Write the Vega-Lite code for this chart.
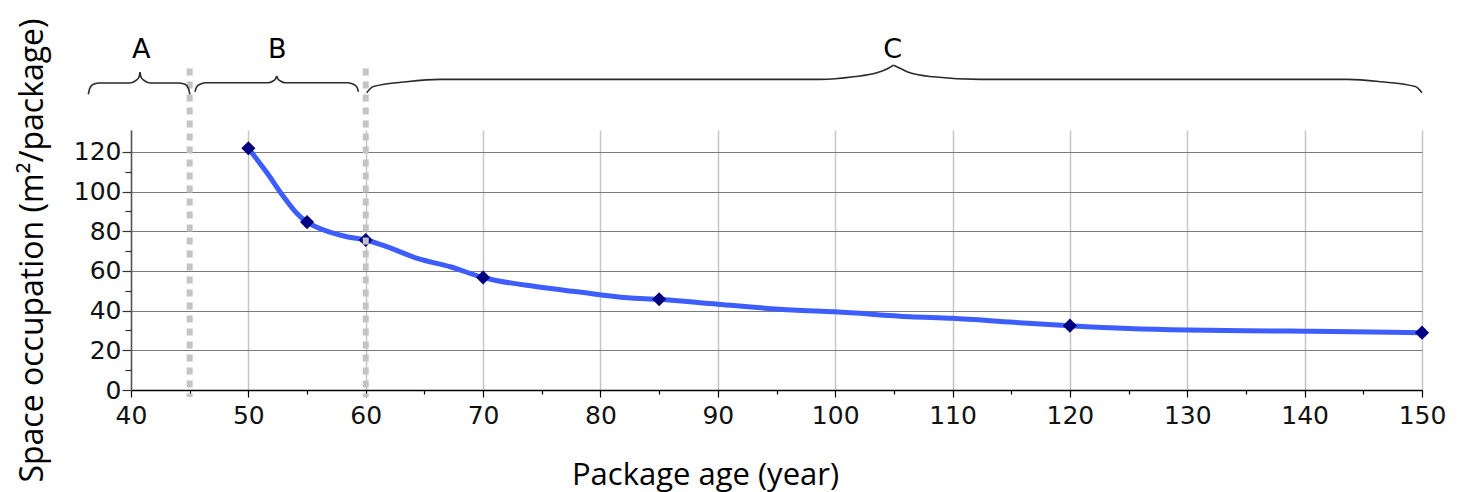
{
  "$schema": "https://vega.github.io/schema/vega-lite/v6.json",
  "width": 1291,
  "height": 260,
  "autosize": {"type": "none"},
  "padding": {"left": 131, "top": 130, "right": 36, "bottom": 102},
  "background": "white",
  "config": {"view": {"stroke": null}},
  "datasets": {
    "curve": [
      {"age": 50, "occ": 121.8, "marker": 1},
      {"age": 51.6, "occ": 109.3, "marker": 0},
      {"age": 53, "occ": 97.4, "marker": 0},
      {"age": 54.1, "occ": 89.2, "marker": 0},
      {"age": 55, "occ": 84.6, "marker": 1},
      {"age": 55.8, "occ": 82.1, "marker": 0},
      {"age": 58.4, "occ": 77.2, "marker": 0},
      {"age": 60, "occ": 75.6, "marker": 1},
      {"age": 61.8, "occ": 72.2, "marker": 0},
      {"age": 64.4, "occ": 66.3, "marker": 0},
      {"age": 67.2, "occ": 62.1, "marker": 0},
      {"age": 70, "occ": 56.7, "marker": 1},
      {"age": 74.6, "occ": 52.0, "marker": 0},
      {"age": 78, "occ": 49.5, "marker": 0},
      {"age": 82.3, "occ": 46.5, "marker": 0},
      {"age": 85, "occ": 45.7, "marker": 1},
      {"age": 90, "occ": 43.2, "marker": 0},
      {"age": 96.4, "occ": 40.3, "marker": 0},
      {"age": 100, "occ": 39.4, "marker": 0},
      {"age": 106.4, "occ": 36.9, "marker": 0},
      {"age": 110, "occ": 36.1, "marker": 0},
      {"age": 115.2, "occ": 34.1, "marker": 0},
      {"age": 120, "occ": 32.4, "marker": 1},
      {"age": 125, "occ": 31.0, "marker": 0},
      {"age": 130, "occ": 30.2, "marker": 0},
      {"age": 135, "occ": 29.8, "marker": 0},
      {"age": 140, "occ": 29.6, "marker": 0},
      {"age": 144, "occ": 29.3, "marker": 0},
      {"age": 150, "occ": 28.9, "marker": 1}
    ],
    "dividers": [{"age": 45}, {"age": 60}],
    "labels": [
      {"label": "A", "age": 40.87, "occ": 171.5},
      {"label": "B", "age": 52.47, "occ": 171.5},
      {"label": "C", "age": 104.9, "occ": 171.5}
    ],
    "braces": [
      {"part": "A1", "i": 0, "age": 36.36, "occ": 149.0},
      {"part": "A1", "i": 1, "age": 36.49, "occ": 152.0},
      {"part": "A1", "i": 2, "age": 36.79, "occ": 154.0},
      {"part": "A1", "i": 3, "age": 37.38, "occ": 154.7},
      {"part": "A1", "i": 4, "age": 39.91, "occ": 154.7},
      {"part": "A1", "i": 5, "age": 40.43, "occ": 156.0},
      {"part": "A1", "i": 6, "age": 40.68, "occ": 157.7},
      {"part": "A1", "i": 7, "age": 40.77, "occ": 160.2},
      {"part": "A2", "i": 0, "age": 40.77, "occ": 160.2},
      {"part": "A2", "i": 1, "age": 40.85, "occ": 157.7},
      {"part": "A2", "i": 2, "age": 41.11, "occ": 156.0},
      {"part": "A2", "i": 3, "age": 41.62, "occ": 154.7},
      {"part": "A2", "i": 4, "age": 44.0, "occ": 154.7},
      {"part": "A2", "i": 5, "age": 44.6, "occ": 154.0},
      {"part": "A2", "i": 6, "age": 44.89, "occ": 152.0},
      {"part": "A2", "i": 7, "age": 45.02, "occ": 149.0},
      {"part": "B1", "i": 0, "age": 45.45, "occ": 150.3},
      {"part": "B1", "i": 1, "age": 45.58, "occ": 152.6},
      {"part": "B1", "i": 2, "age": 45.88, "occ": 154.1},
      {"part": "B1", "i": 3, "age": 46.48, "occ": 154.8},
      {"part": "B1", "i": 4, "age": 51.67, "occ": 154.8},
      {"part": "B1", "i": 5, "age": 52.1, "occ": 155.7},
      {"part": "B1", "i": 6, "age": 52.33, "occ": 156.9},
      {"part": "B1", "i": 7, "age": 52.41, "occ": 158.2},
      {"part": "B2", "i": 0, "age": 52.41, "occ": 158.2},
      {"part": "B2", "i": 1, "age": 52.5, "occ": 156.9},
      {"part": "B2", "i": 2, "age": 52.73, "occ": 155.7},
      {"part": "B2", "i": 3, "age": 53.16, "occ": 154.8},
      {"part": "B2", "i": 4, "age": 58.35, "occ": 154.8},
      {"part": "B2", "i": 5, "age": 58.95, "occ": 154.1},
      {"part": "B2", "i": 6, "age": 59.25, "occ": 152.6},
      {"part": "B2", "i": 7, "age": 59.38, "occ": 150.3},
      {"part": "C1", "i": 0, "age": 60.08, "occ": 149.8},
      {"part": "C1", "i": 1, "age": 60.65, "occ": 152.9},
      {"part": "C1", "i": 2, "age": 63.49, "occ": 155.3},
      {"part": "C1", "i": 3, "age": 66.33, "occ": 156.5},
      {"part": "C1", "i": 4, "age": 98.71, "occ": 156.5},
      {"part": "C1", "i": 5, "age": 101.55, "occ": 157.8},
      {"part": "C1", "i": 6, "age": 103.54, "occ": 159.8},
      {"part": "C1", "i": 7, "age": 104.53, "occ": 162.1},
      {"part": "C1", "i": 8, "age": 104.95, "occ": 163.7},
      {"part": "C2", "i": 0, "age": 104.95, "occ": 163.7},
      {"part": "C2", "i": 1, "age": 105.52, "occ": 162.1},
      {"part": "C2", "i": 2, "age": 106.37, "occ": 159.8},
      {"part": "C2", "i": 3, "age": 108.36, "occ": 157.8},
      {"part": "C2", "i": 4, "age": 112.34, "occ": 156.5},
      {"part": "C2", "i": 5, "age": 143.7, "occ": 156.5},
      {"part": "C2", "i": 6, "age": 146.5, "occ": 155.3},
      {"part": "C2", "i": 7, "age": 149.43, "occ": 152.9},
      {"part": "C2", "i": 8, "age": 150.0, "occ": 149.8}
    ]
  },
  "resolve": {"axis": {"x": "independent", "y": "independent"}},
  "layer": [
    {
      "data": {"name": "curve"},
      "mark": {"type": "line", "interpolate": "monotone", "color": "#3d5efc", "strokeWidth": 5},
      "encoding": {
        "x": {
          "field": "age", "type": "quantitative",
          "scale": {"domain": [40, 150], "nice": false, "zero": false},
          "axis": {
            "orient": "bottom",
            "values": [40, 50, 60, 70, 80, 90, 100, 110, 120, 130, 140, 150],
            "grid": true, "gridColor": "#c6c6c6", "gridWidth": 1.5,
            "domainColor": "#000000", "domainWidth": 1.5,
            "tickColor": "#000000", "tickSize": 7, "tickWidth": 1.2,
            "labelFont": "DejaVu Sans", "labelFontSize": 25, "labelColor": "#111111",
            "labelPadding": 6, "labelFlush": false, "labelOverlap": false, "labelBound": false,
            "title": "Package age (year)",
            "titleFont": "Open Sans", "titleFontSize": 31, "titleFontWeight": "normal", "titleColor": "#000000",
            "titleX": 574, "titleY": 94, "titleBaseline": "alphabetic", "titleAlign": "center"
          }
        },
        "y": {
          "field": "occ", "type": "quantitative",
          "scale": {"domain": [0, 131], "nice": false, "zero": false},
          "axis": {
            "orient": "left",
            "values": [0, 20, 40, 60, 80, 100, 120],
            "grid": true, "gridColor": "#7a7a7a", "gridWidth": 1,
            "domainColor": "#555555", "domainWidth": 1.5,
            "tickColor": "#333333", "tickSize": 9, "tickWidth": 1.2,
            "labelFont": "DejaVu Sans", "labelFontSize": 25, "labelColor": "#111111",
            "labelPadding": 1, "labelOverlap": false, "labelBound": false,
            "title": "Space occupation (m²/package)",
            "titleFont": "Open Sans", "titleFontSize": 32, "titleFontWeight": "normal", "titleColor": "#000000",
            "titleX": -89, "titleY": 120, "titleAngle": -90, "titleBaseline": "alphabetic", "titleAlign": "center"
          }
        }
      }
    },
    {
      "data": {"name": "curve"},
      "transform": [{"filter": "datum.marker == 1"}],
      "mark": {"type": "point", "shape": "diamond", "filled": true, "color": "#000080", "opacity": 1, "size": 200},
      "encoding": {
        "x": {
          "field": "age", "type": "quantitative",
          "scale": {"domain": [40, 150], "nice": false, "zero": false},
          "axis": {
            "orient": "bottom", "values": [45, 55, 65, 75, 85, 95, 105, 115, 125, 135, 145],
            "labels": false, "grid": false, "domain": false, "tickSize": 4, "tickColor": "#000000", "tickWidth": 1.2, "title": null
          }
        },
        "y": {
          "field": "occ", "type": "quantitative",
          "scale": {"domain": [0, 131], "nice": false, "zero": false},
          "axis": {
            "orient": "left", "values": [10, 30, 50, 70, 90, 110],
            "labels": false, "grid": false, "domain": false, "tickSize": 6, "tickColor": "#333333", "tickWidth": 1.2, "title": null
          }
        }
      }
    },
    {
      "data": {"name": "dividers"},
      "mark": {"type": "rule", "clip": false, "color": "#c4c4c4", "strokeWidth": 6, "strokeDash": [7, 6], "strokeCap": "butt"},
      "encoding": {
        "x": {"field": "age", "type": "quantitative", "scale": {"domain": [40, 150], "nice": false, "zero": false}, "axis": null},
        "y": {"datum": 162, "type": "quantitative", "scale": {"domain": [0, 131], "nice": false, "zero": false}, "axis": null},
        "y2": {"datum": -3.5}
      }
    },
    {
      "data": {"name": "braces"},
      "mark": {"type": "line", "clip": false, "interpolate": "monotone", "color": "#2a2a2a", "strokeWidth": 1.6},
      "encoding": {
        "x": {"field": "age", "type": "quantitative", "scale": {"domain": [40, 150], "nice": false, "zero": false}, "axis": null},
        "y": {"field": "occ", "type": "quantitative", "scale": {"domain": [0, 131], "nice": false, "zero": false}, "axis": null},
        "detail": {"field": "part"},
        "order": {"field": "i", "type": "quantitative"}
      }
    },
    {
      "data": {"name": "labels"},
      "mark": {"type": "text", "clip": false, "font": "DejaVu Sans", "fontSize": 27, "color": "#000000", "baseline": "middle", "align": "center"},
      "encoding": {
        "x": {"field": "age", "type": "quantitative", "scale": {"domain": [40, 150], "nice": false, "zero": false}, "axis": null},
        "y": {"field": "occ", "type": "quantitative", "scale": {"domain": [0, 131], "nice": false, "zero": false}, "axis": null},
        "text": {"field": "label"}
      }
    }
  ]
}
